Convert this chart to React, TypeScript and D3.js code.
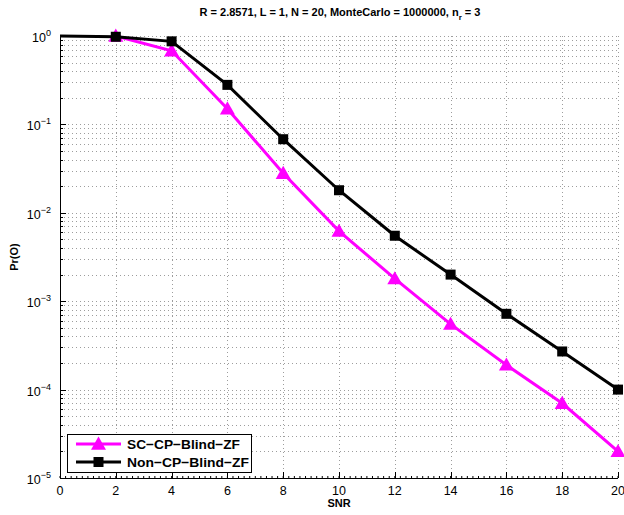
import React from 'react';
import * as d3 from 'd3';

// SNR points and outage probability
const snr = [0, 2, 4, 6, 8, 10, 12, 14, 16, 18, 20];
const scCpBlindZf = [1, 1.0, 0.68, 0.15, 0.028, 0.0062, 0.0018, 0.00055, 0.00019, 0.00007, 0.00002];
const nonCpBlindZf = [1, 0.98, 0.87, 0.28, 0.068, 0.018, 0.0055, 0.002, 0.00072, 0.00027, 0.0001];
const xTicks = [0, 2, 4, 6, 8, 10, 12, 14, 16, 18, 20];
const yExponents = [0, -1, -2, -3, -4, -5];
const legendLabels = ['SC\u2212CP\u2212Blind\u2212ZF', 'Non\u2212CP\u2212Blind\u2212ZF'];

export default function App() {
    const width = 624;
    const height = 515;
    const left = 60, right = 618, top = 36, bottom = 478;
    const font = 'Liberation Sans, Arial, Helvetica, sans-serif';

    const x = d3.scaleLinear().domain([0, 20]).range([left, right]);
    const y = d3.scaleLog().domain([1e-5, 1]).range([bottom, top]);

    const line = d3.line<[number, number]>()
        .x(d => x(d[0]))
        .y(d => y(d[1]));

    const scPts: [number, number][] = snr.map((s, i) => [s, scCpBlindZf[i]] as [number, number]).slice(1);
    const nonPts: [number, number][] = snr.map((s, i) => [s, nonCpBlindZf[i]] as [number, number]);

    // minor log values for the horizontal grid
    const minorY: number[] = [];
    for (let e = -5; e < 0; e++) {
        for (let k = 1; k <= 9; k++) minorY.push(k * Math.pow(10, e));
    }
    minorY.push(1);

    const minorX = d3.range(0, 20.001, 0.2);

    const tri = (cx: number, cy: number, s: number) =>
        `M${cx},${cy - s} L${cx + s},${cy + s * 0.75} L${cx - s},${cy + s * 0.75} Z`;

    const magenta = '#ff00ff';

    return (
        <svg width={width} height={height} style={{ position: 'absolute', left: 0, top: 0, background: '#fff' }}>
            <rect width={width} height={height} fill="#fff" />

            {/* grid */}
            <g stroke="#333" strokeWidth={0.8} strokeDasharray="1 3" opacity={0.6}>
                {minorY.map((v, i) => (
                    <line key={'h' + i} x1={left} x2={right} y1={Math.round(y(v)) + 0.5} y2={Math.round(y(v)) + 0.5} />
                ))}
                {xTicks.filter(t => t > 0).map(t => (
                    <line key={'v' + t} x1={Math.round(x(t)) + 0.5} x2={Math.round(x(t)) + 0.5} y1={top} y2={bottom} />
                ))}
            </g>

            {/* axes */}
            <g stroke="#000" strokeWidth={1}>
                <line x1={left + 0.5} x2={left + 0.5} y1={top} y2={bottom} />
                <line x1={left} x2={right} y1={bottom + 0.5} y2={bottom + 0.5} />
                {minorX.map((t, i) => (
                    <line key={'mx' + i} x1={x(t)} x2={x(t)} y1={bottom} y2={bottom - 2} />
                ))}
                {xTicks.map(t => (
                    <line key={'tx' + t} x1={Math.round(x(t)) + 0.5} x2={Math.round(x(t)) + 0.5} y1={bottom} y2={bottom - 6} />
                ))}
                {minorY.map((v, i) => (
                    <line key={'my' + i} x1={left} x2={left + 3} y1={Math.round(y(v)) + 0.5} y2={Math.round(y(v)) + 0.5} />
                ))}
                {yExponents.map(e => (
                    <line key={'ty' + e} x1={left} x2={left + 6} y1={Math.round(y(Math.pow(10, e))) + 0.5} y2={Math.round(y(Math.pow(10, e))) + 0.5} />
                ))}
            </g>

            {/* tick labels */}
            <g fontFamily={font} fontSize={12.5} fill="#000">
                {xTicks.map(t => (
                    <text key={'lx' + t} x={x(t)} y={bottom + 17} textAnchor="middle">{t}</text>
                ))}
                {yExponents.map(e => (
                    <text key={'ly' + e} x={left - 9} y={y(Math.pow(10, e)) + 6} textAnchor="end">
                        10<tspan dy={-6} fontSize={9}>{e === 0 ? '0' : '\u2212' + (-e)}</tspan>
                    </text>
                ))}
            </g>

            {/* series */}
            <path d={line(scPts) || ''} fill="none" stroke={magenta} strokeWidth={3} />
            {scPts.map((p, i) => (
                <path key={'m' + i} d={tri(x(p[0]), y(p[1]), 7.5)} fill={magenta} />
            ))}
            <path d={line(nonPts) || ''} fill="none" stroke="#000" strokeWidth={3} />
            {nonPts.slice(1).map((p, i) => (
                <rect key={'s' + i} x={x(p[0]) - 5} y={y(p[1]) - 5} width={10} height={10} fill="#000" />
            ))}

            {/* labels */}
            <text x={340} y={16} textAnchor="middle" fontFamily={font} fontSize={11} fontWeight="bold">
                R = 2.8571, L = 1, N = 20, MonteCarlo = 1000000, n<tspan dy={4} fontSize={8}>r</tspan><tspan dy={-4}> = 3</tspan>
            </text>
            <text x={339} y={507} textAnchor="middle" fontFamily={font} fontSize={11} fontWeight="bold">SNR</text>
            <text transform={`translate(18,${(top + bottom) / 2}) rotate(-90)`} textAnchor="middle" fontFamily={font} fontSize={11} fontWeight="bold">Pr(O)</text>

            {/* legend */}
            <g>
                <rect x={67.5} y={434.5} width={184} height={38} fill="#fff" stroke="#000" strokeWidth={1} />
                <line x1={76} x2={121} y1={444} y2={444} stroke={magenta} strokeWidth={3} />
                <path d={tri(98.5, 444, 7.5)} fill={magenta} />
                <line x1={76} x2={121} y1={462} y2={462} stroke="#000" strokeWidth={3} />
                <rect x={93.5} y={457} width={10} height={10} fill="#000" />
                <text x={127} y={449} fontFamily={font} fontSize={13.5} fontWeight="bold" textLength={113} lengthAdjust="spacingAndGlyphs">{legendLabels[0]}</text>
                <text x={127} y={467} fontFamily={font} fontSize={13.5} fontWeight="bold" textLength={122} lengthAdjust="spacingAndGlyphs">{legendLabels[1]}</text>
            </g>
        </svg>
    );
}
